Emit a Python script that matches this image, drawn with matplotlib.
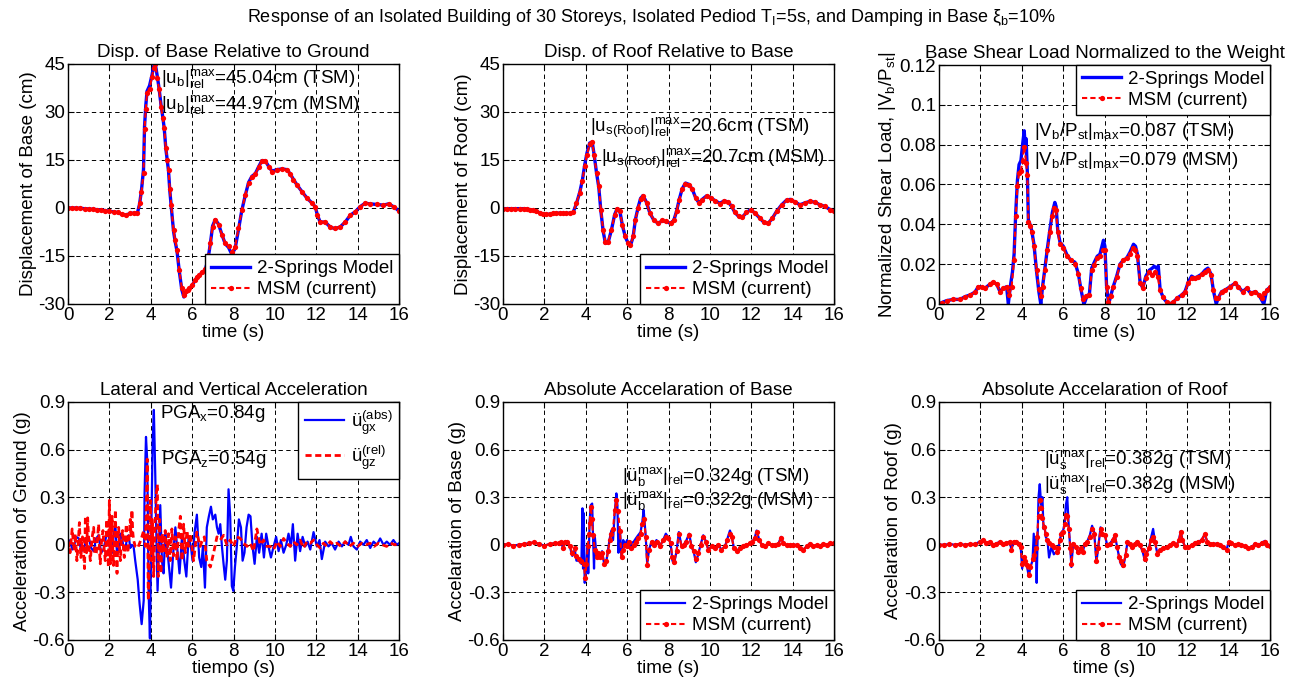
import matplotlib
matplotlib.use('Agg')
import matplotlib.pyplot as plt

plt.rcParams['font.family'] = ['Liberation Sans', 'DejaVu Sans']
plt.rcParams['mathtext.fontset'] = 'custom'
plt.rcParams['mathtext.rm'] = 'Liberation Sans'
plt.rcParams['mathtext.it'] = 'Liberation Sans'
plt.rcParams['mathtext.bf'] = 'Liberation Sans'
plt.rcParams['mathtext.default'] = 'regular'

# ---------------- data ----------------
# Panel 1: displacement of base relative to ground (cm)
base_t = [0, 0.2, 0.4, 0.6, 0.8, 1.0, 1.2, 1.4, 1.6, 1.8,
          2.0, 2.2, 2.4, 2.6, 2.8, 3.0, 3.2,
          3.35, 3.46, 3.55, 3.65, 3.70, 3.76, 3.82, 3.94, 4.06, 4.14,
          4.22, 4.32, 4.4, 4.5, 4.58, 4.65, 4.73, 4.8, 4.86, 4.92,
          4.99, 5.1, 5.18, 5.27, 5.38, 5.5, 5.6, 5.7, 5.78, 5.86,
          6.0, 6.12, 6.23, 6.35, 6.47, 6.63, 6.76, 6.88, 6.99, 7.12,
          7.28, 7.44, 7.6, 7.76, 7.92, 8.08, 8.24, 8.4, 8.57, 8.73,
          8.89, 9.05, 9.21, 9.37, 9.53, 9.7, 9.86, 10.1, 10.34, 10.58,
          10.74, 10.9, 11.06, 11.3, 11.55, 11.79, 11.95, 12.06, 12.19, 12.43,
          12.67, 12.91, 13.16, 13.4, 13.64, 13.88, 14.12, 14.36, 14.6, 14.93,
          15.25, 15.5, 15.74, 16.0]
base_msm = [0, 0, 0, -0.1, -0.2, -0.3, -0.4, -0.5, -0.6, -0.8,
            -1.0, -1.2, -1.4, -2.0, -2.2, -1.7, -1.6,
            -1.7, 1.5, 5.0, 10.8, 24.7, 31.0, 35.9, 37.3, 41.0, 43.8,
            44.97, 40.5, 37.1, 31.5, 28.0, 25.0, 18.7, 15.0, 11.9, 6.0,
            1.0, -6.9, -10.0, -13.0, -19.4, -25.0, -27.2, -26.0, -25.5, -25.0,
            -24.0, -22.5, -21.5, -20.8, -20.0, -19.2, -16.0, -11.0, -5.8, -3.8,
            -5.3, -8.4, -11.0, -11.9, -13.7, -12.1, -6.4, -0.6, 4.0, 7.9,
            9.8, 10.6, 12.7, 14.7, 14.7, 12.9, 11.4, 11.9, 12.1, 11.9,
            10.6, 8.8, 7.2, 5.1, 3.0, 1.5, 0.4, -2.2, -4.3, -4.3,
            -5.8, -6.4, -5.8, -4.3, -2.2, -1.1, 0.4, 1.5, 1.3, 1.1,
            0.9, 1.3, 0.4, -0.9]
base_tsm = [0, 0, 0, -0.1, -0.2, -0.3, -0.4, -0.5, -0.6, -0.8,
            -1.0, -1.2, -1.4, -2.0, -2.2, -1.7, -1.6,
            -1.7, 1.2, 5.5, 12.0, 25.5, 32.0, 36.5, 38.2, 41.5, 44.3,
            45.04, 41.0, 37.5, 32.0, 28.5, 25.0, 18.5, 14.8, 11.5, 5.5,
            0.5, -7.2, -10.5, -13.5, -19.8, -25.5, -27.8, -26.5, -25.8, -25.2,
            -24.2, -22.8, -21.7, -21.0, -20.2, -19.4, -16.3, -11.2, -5.6, -3.6,
            -5.1, -8.3, -11.2, -12.3, -14.5, -12.6, -6.8, -0.8, 4.0, 8.0,
            9.9, 10.7, 12.8, 14.8, 14.8, 13.0, 11.5, 12.0, 12.2, 12.0,
            10.7, 8.9, 7.3, 5.2, 3.1, 1.6, 0.4, -2.3, -4.4, -4.4,
            -5.9, -6.5, -5.9, -4.4, -2.3, -1.2, 0.4, 1.5, 1.3, 1.1,
            0.9, 1.3, 0.4, -0.9]

# Panel 2: displacement of roof relative to base (cm)
roof_t = [0, 0.2, 0.4, 0.6, 0.8, 1.0, 1.15, 1.29, 1.45, 1.61,
          1.78, 1.94, 2.1, 2.26, 2.42, 2.58, 2.74, 2.9, 3.06, 3.23,
          3.39, 3.55, 3.71, 3.84, 3.95, 4.06, 4.19, 4.31, 4.4, 4.52,
          4.63, 4.73, 4.84, 4.95, 5.08, 5.24, 5.4, 5.52, 5.65, 5.77,
          5.92, 6.05, 6.16, 6.29, 6.4, 6.53, 6.65, 6.77, 6.94, 7.1,
          7.29, 7.5, 7.69, 7.9, 8.1, 8.26, 8.39, 8.52, 8.66, 8.82,
          8.98, 9.15, 9.31, 9.47, 9.63, 9.84, 10.05, 10.27, 10.48, 10.69,
          10.89, 11.05, 11.21, 11.4, 11.56, 11.77, 11.97, 12.18, 12.42, 12.63,
          12.82, 13.02, 13.23, 13.47, 13.71, 13.9, 14.11, 14.35, 14.6, 14.84,
          15.08, 15.32, 15.56, 15.81, 16.0]
roof_msm = [-0.2, -0.2, -0.2, -0.2, -0.2, -0.2, -0.3, -0.5, -0.7, -1.0,
            -1.5, -1.9, -2.0, -1.9, -1.7, -1.6, -1.6, -1.7, -1.7, -1.6,
            -1.4, 1.6, 4.7, 8.4, 13.1, 16.7, 19.9, 20.7, 16.7, 11.0,
            6.8, -0.5, -6.8, -10.5, -10.5, -6.8, -2.1, -0.3, -1.0, -5.2,
            -8.9, -10.8, -11.5, -8.9, -3.7, 0.0, 2.8, 3.7, 1.6, -1.6,
            -3.7, -4.7, -3.9, -4.2, -4.7, -3.7, -1.0, 2.6, 5.8, 7.6,
            7.3, 5.8, 3.1, 1.6, 2.6, 3.7, 3.1, 2.1, 1.4, 2.1,
            1.8, 0.5, -1.4, -2.6, -2.8, -1.4, -0.5, -1.6, -3.1, -4.5,
            -4.7, -3.1, -1.0, 1.0, 2.4, 2.6, 1.8, 1.0, 1.6, 2.1,
            1.8, 1.0, 0.5, -0.5, -1.0]
roof_tsm = [-0.2, -0.2, -0.2, -0.2, -0.2, -0.2, -0.3, -0.5, -0.7, -1.0,
            -1.5, -1.9, -2.0, -1.9, -1.7, -1.6, -1.6, -1.7, -1.7, -1.6,
            -1.4, 1.4, 4.9, 8.8, 13.5, 17.2, 20.3, 20.6, 16.9, 11.0,
            6.5, -0.8, -7.2, -11.0, -10.8, -6.9, -2.0, -0.2, -1.0, -5.4,
            -9.2, -11.0, -11.8, -9.0, -3.6, 0.2, 3.0, 3.9, 1.7, -1.6,
            -3.8, -4.8, -4.0, -4.3, -4.8, -3.8, -1.0, 2.7, 6.0, 7.8,
            7.4, 5.9, 3.2, 1.6, 2.7, 3.8, 3.2, 2.2, 1.5, 2.2,
            1.9, 0.5, -1.4, -2.7, -2.9, -1.4, -0.5, -1.6, -3.2, -4.6,
            -4.8, -3.2, -1.0, 1.0, 2.5, 2.7, 1.9, 1.0, 1.6, 2.1,
            1.8, 1.0, 0.5, -0.5, -1.0]

# Panel 3: base shear normalized to weight
shear_t_msm = [0, 0.13, 0.37, 0.69, 1.02, 1.26, 1.5, 1.74, 1.9, 2.06,
               2.22, 2.47, 2.63, 2.79, 2.95, 3.11, 3.27, 3.38, 3.51, 3.63,
               3.71, 3.79, 3.87, 3.96, 4.04, 4.12, 4.21, 4.27, 4.32, 4.4,
               4.48, 4.59, 4.72, 4.83, 4.91, 5.01, 5.12, 5.24, 5.37, 5.48,
               5.58, 5.66, 5.74, 5.85, 6.01, 6.17, 6.36, 6.57, 6.74, 6.85,
               6.98, 7.11, 7.27, 7.38, 7.51, 7.65, 7.78, 7.91, 8.02, 8.1,
               8.19, 8.3, 8.43, 8.59, 8.75, 8.91, 9.07, 9.23, 9.36, 9.47,
               9.59, 9.72, 9.85, 10.0, 10.17, 10.31, 10.44, 10.57, 10.69, 10.85,
               11.0, 11.17, 11.33, 11.52, 11.73, 11.89, 12.05, 12.21, 12.38, 12.54,
               12.7, 12.86, 13.02, 13.15, 13.26, 13.39, 13.5, 13.66, 13.83, 14.07,
               14.31, 14.47, 14.68, 14.87, 15.07, 15.28, 15.47, 15.6, 15.73, 15.84,
               16.0]
shear_msm = [0, 0.0007, 0.0017, 0.0023, 0.0023, 0.0037, 0.0045, 0.006, 0.0087, 0.0084,
             0.0079, 0.01, 0.0109, 0.0099, 0.0062, 0.0079, 0.0087, 0.0045, 0.0087, 0.022,
             0.044, 0.059, 0.066, 0.067, 0.072, 0.079, 0.071, 0.065, 0.041, 0.039,
             0.036, 0.029, 0.017, 0.0075, 0.004, 0.0087, 0.017, 0.027, 0.036, 0.044,
             0.048, 0.047, 0.036, 0.030, 0.028, 0.024, 0.022, 0.020, 0.015, 0.008,
             0.0025, 0.004, 0.0045, 0.017, 0.0196, 0.023, 0.024, 0.027, 0.027, 0.0087,
             0.0012, 0.004, 0.0087, 0.0137, 0.0196, 0.022, 0.023, 0.025, 0.028, 0.027,
             0.024, 0.0104, 0.0079, 0.0129, 0.0162, 0.0146, 0.0162, 0.0137, 0.007, 0.0037,
             0.0012, 0.0, 0.0012, 0.0028, 0.0045, 0.0062, 0.0104, 0.0129, 0.0129, 0.0137,
             0.0149, 0.0162, 0.017, 0.0146, 0.007, 0.0028, 0.0028, 0.0062, 0.007, 0.0087,
             0.0104, 0.0087, 0.0062, 0.0079, 0.0054, 0.0062, 0.0045, 0.0028, 0.0054, 0.007,
             0.0084]
shear_t_tsm = [0, 0.13, 0.37, 0.69, 1.02, 1.26, 1.5, 1.74, 1.9, 2.06,
               2.22, 2.47, 2.63, 2.79, 2.95, 3.11, 3.27, 3.35, 3.45, 3.55,
               3.63, 3.71, 3.79, 3.87, 3.96, 4.04, 4.12, 4.17, 4.21, 4.27,
               4.32, 4.4, 4.48, 4.59, 4.72, 4.83, 4.92, 5.01, 5.12, 5.24,
               5.37, 5.48, 5.6, 5.66, 5.74, 5.85, 6.01, 6.17, 6.36, 6.57,
               6.74, 6.85, 7.0, 7.05, 7.15, 7.27, 7.38, 7.51, 7.65, 7.78,
               7.95, 8.02, 8.1, 8.2, 8.3, 8.43, 8.59, 8.75, 8.91, 9.07,
               9.23, 9.4, 9.5, 9.59, 9.72, 9.85, 10.0, 10.17, 10.31, 10.4,
               10.5, 10.6, 10.69, 10.85, 11.0, 11.15, 11.33, 11.52, 11.73, 11.89,
               12.05, 12.21, 12.38, 12.54, 12.7, 12.86, 13.0, 13.15, 13.26, 13.4,
               13.5, 13.66, 13.83, 14.07, 14.31, 14.47, 14.68, 14.87, 15.07, 15.28,
               15.47, 15.7, 15.84, 16.0]
shear_tsm = [0, 0.0007, 0.0017, 0.0023, 0.0023, 0.0037, 0.0045, 0.006, 0.0087, 0.0084,
             0.0079, 0.01, 0.011, 0.0099, 0.0062, 0.0079, 0.0087, 0.0, 0.009, 0.016,
             0.025, 0.046, 0.062, 0.07, 0.072, 0.08, 0.087, 0.078, 0.083, 0.066,
             0.042, 0.04, 0.037, 0.03, 0.016, 0.006, 0.0, 0.009, 0.018, 0.028,
             0.038, 0.046, 0.051, 0.049, 0.037, 0.031, 0.029, 0.025, 0.022, 0.021,
             0.015, 0.008, 0.0, 0.001, 0.004, 0.005, 0.018, 0.021, 0.024, 0.025,
             0.032, 0.029, 0.009, 0.0, 0.004, 0.009, 0.014, 0.02, 0.022, 0.023,
             0.026, 0.030, 0.029, 0.025, 0.011, 0.008, 0.014, 0.017, 0.018, 0.019,
             0.018, 0.019, 0.007, 0.003, 0.001, 0.0, 0.001, 0.003, 0.0045, 0.0062,
             0.011, 0.014, 0.013, 0.014, 0.015, 0.017, 0.018, 0.015, 0.007, 0.0,
             0.003, 0.0062, 0.007, 0.0087, 0.0104, 0.0087, 0.0062, 0.0079, 0.0054, 0.0062,
             0.0045, 0.0, 0.007, 0.0084]

# Panel 4: ground accelerations (g)
gx_t = [0, 0.11, 0.2, 0.27, 0.4, 0.52, 0.64, 0.76, 0.88, 1.0,
        1.12, 1.24, 1.36, 1.48, 1.6, 1.72, 1.84, 1.96, 2.05, 2.13,
        2.21, 2.29, 2.37, 2.45, 2.53, 2.61, 2.69, 2.77, 2.85, 2.93,
        3.01, 3.09,
        3.17, 3.25, 3.37, 3.46, 3.56, 3.66, 3.7, 3.77, 3.83, 3.9,
        3.96, 4.03, 4.09, 4.15, 4.22, 4.28, 4.33, 4.4, 4.46, 4.54,
        4.62, 4.7, 4.78, 4.86, 4.98, 5.07, 5.19, 5.3, 5.39, 5.51,
        5.62, 5.72, 5.83, 5.94, 6.02, 6.12, 6.23, 6.34, 6.44, 6.52,
        6.62, 6.71, 6.81, 6.91, 7.0, 7.12, 7.2, 7.28, 7.36, 7.44,
        7.52, 7.6, 7.68, 7.76, 7.84, 7.92, 7.99, 8.07, 8.16, 8.26,
        8.36, 8.44, 8.53, 8.63, 8.73, 8.82, 8.92, 9.02, 9.13, 9.24,
        9.36, 9.47, 9.58, 9.69, 9.81, 9.94, 10.06, 10.18, 10.29, 10.42,
        10.55, 10.66, 10.77, 10.87, 10.98, 11.1, 11.22, 11.34, 11.47, 11.58,
        11.71, 11.87, 12.03, 12.16, 12.27, 12.43, 12.59, 12.75, 12.91, 13.08,
        13.24, 13.4, 13.56, 13.67, 13.8, 13.96, 14.12, 14.28, 14.44, 14.61,
        14.77, 14.93, 15.09, 15.25, 15.41, 15.57, 15.73, 15.89, 16.0]
gx_abs = [0.01, 0.03, -0.03, -0.02, 0.05, 0.04, -0.04, -0.03, 0.03, 0.05,
          -0.02, -0.04, 0.04, 0.06, -0.05, -0.03, 0.05, 0.08, -0.06, -0.05,
          0.06, 0.12, -0.06, -0.04, 0.07, 0.05, -0.03, -0.03, 0.04, 0.06,
          -0.02, 0.0,
          -0.01, -0.1, -0.22, -0.37, -0.5, -0.35, 0.32, 0.68, 0.53, -0.31,
          -0.59, 0.11, 0.64, 0.85, 0.43, -0.01, -0.29, -0.01, 0.25, -0.1,
          -0.18, 0.07, -0.01, -0.11, -0.27, -0.08, 0.11, -0.05, -0.18, 0.05,
          -0.1, -0.2, 0.05, -0.01, -0.1, 0.08, 0.19, -0.08, -0.14, -0.01,
          -0.27, 0.11, 0.18, 0.24, 0.16, 0.19, 0.11, 0.07, 0.13, -0.01,
          -0.12, -0.22, -0.1, 0.35, 0.18, -0.26, -0.29, -0.14, -0.01, 0.16,
          0.11, -0.1, -0.05, 0.11, 0.19, 0.18, -0.01, -0.12, 0.05, -0.05,
          0.07, -0.08, 0.07, -0.01, -0.08, -0.01, 0.05, -0.04, 0.03, -0.05,
          0.0, 0.07, -0.01, 0.13, -0.1, 0.07, -0.04, 0.05, -0.01, 0.02,
          -0.03, 0.08, -0.01, 0.03, -0.09, 0.02, -0.01, 0.01, -0.03, 0.02,
          -0.01, 0.02, 0.0, 0.05, -0.01, -0.03, 0.02, 0.0, 0.03, -0.02,
          0.02, 0.0, 0.04, 0.0, 0.02, 0.0, 0.03, 0.0, 0.01]
gz_t = [0, 0.1, 0.2, 0.3, 0.35, 0.43, 0.5, 0.55, 0.62, 0.7,
        0.8, 0.84, 0.9, 0.95, 1.02, 1.08, 1.16, 1.24, 1.3, 1.37,
        1.43, 1.48, 1.52, 1.56, 1.62, 1.69, 1.75, 1.8, 1.84, 1.88,
        1.92, 1.95, 2.0, 2.05, 2.1, 2.13, 2.17, 2.2, 2.25, 2.29,
        2.33, 2.37, 2.41, 2.45, 2.5, 2.53, 2.58, 2.64, 2.68, 2.72,
        2.77, 2.82, 2.86, 2.9, 2.96, 3.01, 3.05, 3.09, 3.13, 3.17,
        3.25, 3.37, 3.49, 3.57, 3.66, 3.74, 3.79, 3.83, 3.88, 3.93,
        3.98, 4.03, 4.07, 4.14, 4.2, 4.27, 4.32, 4.36, 4.43, 4.49,
        4.56, 4.62, 4.7, 4.78, 4.86, 4.94, 5.02, 5.1, 5.19, 5.27,
        5.35, 5.43, 5.51, 5.59, 5.67, 5.75, 5.83, 5.91, 5.99, 6.07,
        6.15, 6.23, 6.31, 6.39, 6.47, 6.59, 6.71, 6.88, 7.04, 7.2,
        7.36, 7.52, 7.68, 7.84, 8.0, 8.16, 8.33, 8.49, 8.65, 8.81,
        8.97, 9.13, 9.29, 9.45, 9.61, 9.77, 9.94, 10.1, 10.26, 10.42,
        10.58, 10.74, 10.9, 11.06, 11.22, 11.38, 11.55, 11.71, 11.87, 12.03,
        12.19, 12.35, 12.51, 12.67, 12.83, 13.0, 13.2, 13.4, 13.6, 13.8,
        14.0, 14.2, 14.4, 14.6, 14.8, 15.0, 15.2, 15.4, 15.6, 15.8,
        16.0]
gz_rel = [0.02, -0.05, 0.1, -0.04, 0.07, -0.1, 0.02, 0.14, -0.08, 0.05,
          -0.15, 0.18, -0.05, 0.17, -0.02, -0.1, 0.04, 0.11, -0.06, -0.05,
          0.05, 0.13, -0.03, -0.12, 0.02, 0.09, -0.03, -0.1, 0.05, 0.16,
          -0.02, -0.14, 0.28, -0.12, 0.06, 0.18, -0.04, -0.13, 0.05, 0.22,
          -0.05, -0.18, 0.03, 0.11, -0.04, -0.1, 0.03, 0.09, -0.02, -0.08,
          0.04, 0.13, -0.01, -0.05, 0.06, 0.16, 0.05, 0.22, 0.08, 0.03,
          -0.01, -0.02, 0.02, 0.05, 0.09, -0.01, 0.28, 0.54, -0.35, -0.14,
          0.28, -0.1, 0.16, -0.2, 0.11, 0.32, 0.38, -0.2, 0.16, -0.18,
          0.07, -0.05, 0.09, -0.08, 0.07, -0.1, 0.1, -0.07, 0.05, -0.1,
          0.09, 0.18, -0.1, 0.13, -0.05, 0.09, -0.01, 0.07, -0.01, -0.1,
          -0.01, 0.08, 0.03, -0.01, 0.02, 0.05, -0.1, -0.14, -0.05, 0.05,
          0.03, 0.06, 0.0, 0.03, -0.01, 0.05, 0.04, 0.01, -0.01, 0.01,
          -0.04, 0.1, 0.0, 0.03, -0.01, -0.01, -0.03, 0.02, -0.01, 0.04,
          0.01, -0.01, 0.02, 0.0, 0.03, -0.02, 0.02, 0.01, 0.03, 0.0,
          -0.02, 0.01, -0.01, 0.02, 0.0, 0.01, -0.01, 0.02, -0.01, 0.01,
          -0.01, 0.01, 0.0, 0.01, -0.01, 0.01, 0.0, -0.01, 0.01, 0.0,
          0.01]

# Panel 5: absolute acceleration of base (g)
abase_t_msm = [0, 0.25, 0.5, 0.75, 1.0, 1.25, 1.5, 1.75, 2.0, 2.25,
               2.5, 2.7, 2.8, 2.9, 3.0, 3.1, 3.23, 3.35, 3.47, 3.55,
               3.66, 3.79, 3.9, 3.98, 4.03, 4.1, 4.15, 4.19, 4.24, 4.31,
               4.35, 4.44, 4.52, 4.6, 4.68, 4.79, 4.89, 5.0, 5.08, 5.16,
               5.24, 5.32, 5.4, 5.48, 5.56, 5.65, 5.73, 5.81, 5.89, 6.0,
               6.1, 6.21, 6.32, 6.42, 6.53, 6.65, 6.74, 6.82, 6.9, 6.97,
               7.06, 7.18, 7.29, 7.42, 7.58, 7.74, 7.87, 7.98, 8.1, 8.19,
               8.27, 8.39, 8.5, 8.63, 8.74, 8.87, 9.0, 9.11, 9.23, 9.32,
               9.44, 9.55, 9.68, 9.81, 9.92, 10.08, 10.24, 10.4, 10.56, 10.73,
               10.85, 10.97, 11.05, 11.16, 11.29, 11.45, 11.61, 11.77, 11.94, 12.06,
               12.18, 12.26, 12.39, 12.5, 12.66, 12.82, 12.98, 13.15, 13.31, 13.44,
               13.55, 13.71, 13.87, 14.03, 14.19, 14.35, 14.52, 14.68, 14.84, 15.0,
               15.16, 15.32, 15.48, 15.65, 15.81, 16.0]
abase_msm = [0, 0.005, -0.005, 0.0, 0.005, 0.01, 0.015, 0.005, -0.005, 0.005,
             0.01, 0.01, 0.02, -0.02, 0.02, 0.02, -0.01, -0.05, -0.02, -0.07,
             -0.09, -0.1, -0.12, -0.21, -0.12, -0.01, 0.07, 0.14, 0.24, 0.16,
             0.06, -0.03, -0.08, -0.05, -0.08, -0.05, -0.12, -0.1, -0.04, 0.03,
             0.07, 0.1, 0.22, 0.28, 0.21, 0.09, -0.08, -0.03, 0.0, -0.01,
             0.02, -0.02, 0.0, 0.02, 0.04, 0.07, 0.13, 0.16, 0.05, -0.13,
             -0.03, 0.02, 0.0, 0.02, -0.01, 0.03, 0.05, 0.04, 0.01, -0.08,
             -0.11, -0.04, 0.07, -0.01, 0.0, 0.02, 0.06, -0.01, -0.04, -0.09,
             -0.05, 0.0, 0.05, 0.02, -0.03, -0.01, -0.02, 0.0, -0.03, -0.01,
             0.03, 0.07, 0.05, -0.02, -0.04, -0.02, -0.01, 0.0, 0.01, 0.02,
             0.04, 0.08, 0.03, 0.0, -0.01, 0.01, 0.0, 0.0, 0.005, 0.04,
             0.01, 0.0, 0.0, 0.0, 0.0, -0.02, -0.03, -0.01, 0.005, -0.01,
             0.0, -0.01, 0.005, 0.0, 0.01, 0.01]
abase_t_tsm = [0, 0.25, 0.5, 0.75, 1.0, 1.25, 1.5, 1.75, 2.0, 2.25,
               2.5, 2.7, 2.8, 2.9, 3.0, 3.1, 3.23, 3.35, 3.47, 3.55,
               3.66, 3.79, 3.84, 3.87, 3.9, 3.95, 3.98, 4.03, 4.08, 4.12,
               4.19, 4.24, 4.31, 4.35, 4.4, 4.44, 4.52, 4.6, 4.68, 4.79,
               4.89, 5.0, 5.08, 5.16, 5.24, 5.32, 5.4, 5.48, 5.53, 5.58,
               5.65, 5.73, 5.81, 5.89, 6.0, 6.1, 6.21, 6.32, 6.42, 6.53,
               6.65, 6.74, 6.8, 6.9, 6.97, 7.06, 7.18, 7.29, 7.42, 7.58,
               7.74, 7.87, 7.98, 8.1, 8.19, 8.27, 8.39, 8.5, 8.63, 8.74,
               8.87, 9.0, 9.11, 9.23, 9.32, 9.44, 9.55, 9.68, 9.81, 9.92,
               10.08, 10.24, 10.4, 10.56, 10.73, 10.85, 10.97, 11.05, 11.16, 11.29,
               11.45, 11.61, 11.77, 11.94, 12.06, 12.18, 12.26, 12.39, 12.5, 12.66,
               12.82, 12.98, 13.15, 13.31, 13.44, 13.55, 13.71, 13.87, 14.03, 14.19,
               14.35, 14.52, 14.68, 14.84, 15.0, 15.16, 15.32, 15.48, 15.65, 15.81,
               16.0]
abase_tsm = [0, 0.005, -0.005, 0.0, 0.005, 0.01, 0.015, 0.005, -0.005, 0.005,
             0.01, 0.01, 0.02, -0.02, 0.02, 0.02, -0.01, -0.07, -0.03, -0.1,
             -0.1, -0.12, 0.23, -0.15, 0.2, -0.24, -0.2, -0.14, 0.0, -0.18,
             0.15, 0.25, 0.26, 0.06, -0.15, 0.05, -0.07, -0.05, -0.08, -0.04,
             -0.12, -0.1, -0.03, 0.04, 0.09, 0.03, 0.2, 0.324, 0.25, -0.05,
             0.1, -0.08, 0.03, 0.0, 0.03, -0.02, 0.01, 0.02, 0.04, 0.06,
             0.08, 0.15, 0.22, 0.05, -0.12, -0.03, 0.02, 0.0, 0.03, -0.01,
             0.03, 0.07, 0.05, 0.01, -0.1, -0.12, -0.04, 0.08, -0.01, 0.0,
             0.03, 0.07, -0.01, -0.05, -0.11, -0.06, 0.0, 0.06, 0.02, -0.03,
             -0.01, -0.02, 0.0, -0.03, -0.01, 0.04, 0.09, 0.06, -0.02, -0.04,
             -0.02, -0.01, 0.0, 0.01, 0.02, 0.05, 0.09, 0.03, 0.0, -0.01,
             0.01, 0.0, 0.0, 0.005, 0.05, 0.01, 0.0, 0.0, 0.0, 0.0,
             -0.02, -0.03, -0.01, 0.01, -0.01, 0.0, -0.01, 0.005, 0.0, 0.01,
             0.01]

# Panel 6: absolute acceleration of roof (g)
aroof_t_msm = [0, 0.25, 0.5, 0.75, 1.0, 1.25, 1.5, 1.75, 1.97, 2.13,
               2.29, 2.45, 2.61, 2.77, 2.94, 3.1, 3.26, 3.42, 3.5, 3.61,
               3.74, 3.85, 3.95, 4.02, 4.1, 4.18, 4.26, 4.34, 4.42, 4.52,
               4.6, 4.68, 4.74, 4.81, 4.87, 4.94, 5.0, 5.08, 5.16, 5.24,
               5.32, 5.44, 5.55, 5.68, 5.76, 5.84, 5.92, 6.0, 6.08, 6.13,
               6.21, 6.27, 6.35, 6.4, 6.48, 6.61, 6.73, 6.84, 6.94, 7.05,
               7.16, 7.29, 7.4, 7.5, 7.61, 7.69, 7.81, 7.9, 8.02, 8.13,
               8.26, 8.39, 8.5, 8.61, 8.71, 8.79, 8.9, 9.02, 9.11, 9.23,
               9.35, 9.47, 9.58, 9.71, 9.84, 9.95, 10.03, 10.15, 10.24, 10.35,
               10.44, 10.56, 10.68, 10.84, 11.0, 11.16, 11.32, 11.48, 11.6, 11.68,
               11.77, 11.89, 12.05, 12.21, 12.37, 12.53, 12.69, 12.85, 12.97, 13.1,
               13.26, 13.42, 13.58, 13.74, 13.9, 14.0, 14.13, 14.3, 14.46, 14.62,
               14.79, 14.95, 15.11, 15.27, 15.44, 15.6, 15.76, 15.87, 16.0]
aroof_msm = [0, 0.0, 0.005, 0.0, 0.005, 0.0, 0.005, 0.005, 0.02, 0.03,
             0.013, 0.02, -0.002, 0.008, 0.02, 0.008, 0.013, 0.02, -0.03, 0.02,
             0.02, 0.008, -0.013, -0.12, -0.08, -0.1, -0.13, -0.19, -0.14, -0.09,
             -0.065, -0.023, 0.05, 0.18, 0.28, 0.23, 0.17, 0.11, 0.07, 0.03,
             0.013, -0.002, -0.013, -0.044, -0.023, 0.03, 0.07, 0.08, 0.13, 0.19,
             0.18, 0.1, -0.023, -0.12, 0.008, -0.013, -0.044, -0.023, -0.044, 0.008,
             0.019, 0.05, 0.1, 0.07, -0.1, -0.023, 0.1, 0.07, 0.06, -0.002,
             0.008, 0.03, 0.06, -0.013, -0.076, -0.1, -0.13, -0.065, 0.019, 0.008,
             -0.013, 0.008, 0.019, -0.002, -0.034, -0.09, -0.055, -0.023, 0.03, 0.05,
             0.019, -0.055, -0.034, -0.023, -0.013, -0.002, 0.013, -0.002, 0.03, 0.08,
             0.03, -0.013, -0.013, -0.002, 0.013, 0.019, 0.03, 0.07, 0.019, 0.008,
             0.004, 0.008, -0.002, -0.013, -0.034, 0.019, 0.013, -0.002, 0.004, -0.002,
             -0.008, -0.023, -0.017, 0.008, -0.002, 0.013, 0.019, -0.002, -0.008]
aroof_t_tsm = [0, 0.25, 0.5, 0.75, 1.0, 1.25, 1.5, 1.75, 1.97, 2.13,
               2.29, 2.45, 2.61, 2.77, 2.94, 3.1, 3.26, 3.42, 3.5, 3.61,
               3.74, 3.85, 3.95, 4.02, 4.1, 4.18, 4.26, 4.34, 4.42, 4.52,
               4.58, 4.63, 4.68, 4.72, 4.76, 4.81, 4.87, 4.94, 5.0, 5.05,
               5.1, 5.16, 5.24, 5.32, 5.44, 5.55, 5.68, 5.76, 5.84, 5.92,
               6.0, 6.08, 6.13, 6.2, 6.27, 6.35, 6.4, 6.48, 6.61, 6.73,
               6.84, 6.94, 7.05, 7.16, 7.29, 7.4, 7.5, 7.61, 7.69, 7.81,
               7.9, 8.02, 8.13, 8.26, 8.39, 8.5, 8.61, 8.71, 8.79, 8.9,
               9.02, 9.11, 9.23, 9.35, 9.47, 9.58, 9.71, 9.84, 9.95, 10.03,
               10.15, 10.24, 10.35, 10.44, 10.56, 10.68, 10.84, 11.0, 11.16, 11.32,
               11.48, 11.6, 11.68, 11.77, 11.89, 12.05, 12.21, 12.37, 12.53, 12.69,
               12.85, 12.97, 13.1, 13.26, 13.42, 13.58, 13.74, 13.9, 14.0, 14.13,
               14.3, 14.46, 14.62, 14.79, 14.95, 15.11, 15.27, 15.44, 15.6, 15.76,
               15.87, 16.0]
aroof_tsm = [0, 0.0, 0.005, 0.0, 0.005, 0.0, 0.005, 0.005, 0.02, 0.03,
             0.013, 0.02, -0.002, 0.008, 0.02, 0.008, 0.013, 0.02, -0.03, 0.02,
             0.02, 0.008, -0.013, -0.15, -0.08, -0.1, -0.14, -0.2, -0.14, -0.1,
             0.07, -0.1, 0.05, -0.24, 0.0, 0.3, 0.382, 0.25, 0.3, 0.1,
             0.12, 0.05, 0.03, -0.08, -0.013, -0.06, -0.044, -0.023, 0.03, 0.08,
             0.09, 0.14, 0.25, 0.3, 0.12, -0.03, -0.14, 0.008, -0.013, -0.05,
             -0.023, -0.05, 0.008, 0.019, 0.06, 0.12, 0.08, -0.11, -0.023, 0.11,
             0.07, 0.06, -0.002, 0.008, 0.03, 0.06, -0.013, -0.08, -0.12, -0.14,
             -0.065, 0.019, 0.008, -0.013, 0.008, 0.019, -0.002, -0.04, -0.1, -0.055,
             -0.023, 0.04, 0.1, 0.019, -0.06, -0.034, -0.023, -0.013, -0.002, 0.013,
             -0.002, 0.03, 0.085, 0.03, -0.013, -0.013, -0.002, 0.013, 0.019, 0.03,
             0.065, 0.019, 0.008, 0.004, 0.008, -0.002, -0.013, -0.034, 0.019, 0.013,
             -0.002, 0.004, -0.002, -0.008, -0.023, -0.017, 0.008, -0.002, 0.013, 0.025,
             -0.002, -0.008]

time_ticks = [0, 2, 4, 6, 8, 10, 12, 14, 16]
disp_ticks = [-30, -15, 0, 15, 30, 45]
shear_ticks = [0, 0.02, 0.04, 0.06, 0.08, 0.1, 0.12]
shear_labels = ['0', '0.02', '0.04', '0.06', '0.08', '0.1', '0.12']
acc_ticks = [-0.6, -0.3, 0, 0.3, 0.6, 0.9]
acc_labels = ['-0.6', '-0.3', '0', '0.3', '0.6', '0.9']

# ---------------- figure ----------------
W, H = 1303, 689
fig = plt.figure(figsize=(W / 100, H / 100), dpi=100)
FS = 13.5


def make_axes(l, t, r, b):
    return fig.add_axes([l / W, 1 - b / H, (r - l) / W, (b - t) / H])


def style(ax, yticks, ylabels, title, xlabel, ylabel):
    ax.set_xlim(0, 16)
    ax.set_ylim(yticks[0], yticks[-1])
    ax.set_xticks(time_ticks)
    ax.set_xticklabels([str(v) for v in time_ticks])
    ax.set_yticks(yticks)
    ax.set_yticklabels(ylabels)
    ax.grid(True, color='black', linestyle=(0, (4.5, 3.5)), linewidth=0.7)
    ax.set_axisbelow(True)
    ax.tick_params(direction='in', top=True, right=True, length=4, width=0.8,
                   labelsize=FS, pad=2)
    for s in ax.spines.values():
        s.set_linewidth(1.0)
    ax.set_title(title, fontsize=FS, pad=5)
    ax.set_xlabel(xlabel, fontsize=FS, labelpad=0)
    ax.set_ylabel(ylabel, fontsize=FS, labelpad=1)


def pair(ax, tb, vb, tr, vr, blue_lw, loc):
    ax.plot(tb, vb, color='blue', lw=blue_lw, label='2-Springs Model')
    ax.plot(tr, vr, color='red', lw=1.5, linestyle=(0, (2.5, 1.5)), marker='o',
            markersize=3.8, markeredgewidth=0, label='MSM (current)')
    leg = ax.legend(loc=loc, borderaxespad=0, fontsize=FS, fancybox=False,
                    framealpha=1, edgecolor='black', handlelength=2.1,
                    numpoints=1, borderpad=0.3, labelspacing=0.22,
                    handletextpad=0.35)
    leg.get_frame().set_linewidth(1.0)
    return leg


# Panel 1
ax1 = make_axes(68, 64, 399, 304)
pair(ax1, base_t, base_tsm, base_t, base_msm, 2.4, 'lower right')
style(ax1, disp_ticks, [str(v) for v in disp_ticks],
      'Disp. of Base Relative to Ground', 'time (s)', 'Displacement of Base (cm)')
ax1.text(4.5, 40.6, r'$|u_b|_{rel}^{max}$=45.04cm (TSM)', fontsize=FS, va='center')
ax1.text(4.5, 32.5, r'$|u_b|_{rel}^{max}$=44.97cm (MSM)', fontsize=FS, va='center')

# Panel 2
ax2 = make_axes(503, 64, 834, 304)
pair(ax2, roof_t, roof_tsm, roof_t, roof_msm, 2.4, 'lower right')
style(ax2, disp_ticks, [str(v) for v in disp_ticks],
      'Disp. of Roof Relative to Base', 'time (s)', 'Displacement of Roof (cm)')
ax2.text(4.19, 25.1, r'$|u_{s(Roof)}|_{rel}^{max}$=20.6cm (TSM)', fontsize=FS, va='center')
ax2.text(4.76, 15.2, r'$|u_{s(Roof)}|_{rel}^{max}$=20.7cm (MSM)', fontsize=FS, va='center')

# Panel 3
ax3 = make_axes(939, 65, 1270, 304)
pair(ax3, shear_t_tsm, shear_tsm, shear_t_msm, shear_msm, 2.4, 'upper right')
style(ax3, shear_ticks, shear_labels,
      'Base Shear Load Normalized to the Weight', 'time (s)',
      r'Normalized Shear Load, $|V_b/P_{st}|$')
ax3.text(4.6, 0.0865, r'$|V_b/P_{st}|_{max}$=0.087 (TSM)', fontsize=FS, va='center')
ax3.text(4.6, 0.0723, r'$|V_b/P_{st}|_{max}$=0.079 (MSM)', fontsize=FS, va='center')

# Panel 4
ax4 = make_axes(68, 402, 399, 640)
ax4.plot(gx_t, gx_abs, color='blue', lw=1.6, label=r'$ü_{gx}^{(abs)}$')
ax4.plot(gz_t, gz_rel, color='red', lw=2.0, linestyle=(0, (2.2, 1.3)),
         label=r'$ü_{gz}^{(rel)}$')
leg4 = ax4.legend(loc='upper right', borderaxespad=0, fontsize=FS, fancybox=False,
                  framealpha=1, edgecolor='black', handlelength=2.1,
                  borderpad=0.35, labelspacing=0.35, handletextpad=0.35)
leg4.get_frame().set_linewidth(1.0)
style(ax4, acc_ticks, acc_labels, 'Lateral and Vertical Acceleration',
      'tiempo (s)', 'Acceleration of Ground (g)')
ax4.text(4.43, 0.83, r'$PGA_x$=0.84g', fontsize=FS, va='center')
ax4.text(4.5, 0.54, r'$PGA_z$=0.54g', fontsize=FS, va='center')

# Panel 5
ax5 = make_axes(503, 402, 834, 640)
pair(ax5, abase_t_tsm, abase_tsm, abase_t_msm, abase_msm, 1.6, 'lower right')
style(ax5, acc_ticks, acc_labels, 'Absolute Accelaration of Base', 'time (s)',
      'Accelaration of Base (g)')
ax5.text(5.73, 0.43, r'$|ü_b^{max}|_{rel}$=0.324g (TSM)', fontsize=FS, va='center')
ax5.text(5.73, 0.28, r'$|ü_b^{max}|_{rel}$=0.322g (MSM)', fontsize=FS, va='center')

# Panel 6
ax6 = make_axes(939, 402, 1270, 640)
pair(ax6, aroof_t_tsm, aroof_tsm, aroof_t_msm, aroof_msm, 1.6, 'lower right')
style(ax6, acc_ticks, acc_labels, 'Absolute Accelaration of Roof', 'time (s)',
      'Accelaration of Roof (g)')
ax6.text(5.08, 0.54, r'$|ü_s^{max}|_{rel}$=0.382g (TSM)', fontsize=FS, va='center')
ax6.text(5.08, 0.38, r'$|ü_s^{max}|_{rel}$=0.382g (MSM)', fontsize=FS, va='center')

fig.text(0.5, 1 - 17 / H,
         r'Response of an Isolated Building of 30 Storeys, Isolated Pediod $T_I$=5s, '
         r'and Damping in Base $\xi_b$=10%', ha='center', va='center', fontsize=13)

fig.savefig('out.png', dpi=100)
